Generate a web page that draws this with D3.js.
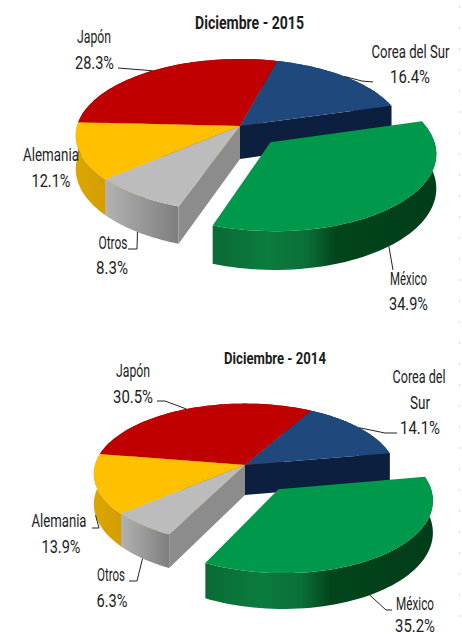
<!DOCTYPE html>
<html>
<head>
<meta charset="utf-8">
<script src="https://cdn.jsdelivr.net/npm/d3@7/dist/d3.min.js"></script>
<style>
html,body{margin:0;padding:0;background:#fff;}
svg{display:block;}
text{font-family:Roboto,"Liberation Sans",sans-serif;fill:#1c1c1c;}
</style>
</head>
<body>
<script>
// ---- data ----
const categories = ["México", "Otros", "Alemania", "Japón", "Corea del Sur"];
const values2015 = [34.9, 8.3, 12.1, 28.3, 16.4];
const values2014 = [35.2, 6.3, 13.9, 30.5, 14.1];
const titles = ["Diciembre - 2015", "Diciembre - 2014"];

// ---- styles ----
const topColors = ["#00984a", "#bcbcbc", "#ffc000", "#c00000", "#1f497d"];
const faceColors = ["#0a5f2c", "#8c8c8c", "#d9a300", "#8a0000", "#0c1f3f"];
const wallStops = [
  [[0, "#0a6b35"], [0.25, "#0b7c3e"], [0.42, "#0a6f37"], [0.55, "#02451d"], [1, "#003d18"]],
  [[0, "#b2b2b2"], [1, "#7e7e7e"]],
  [[0, "#dba600"], [1, "#d49e00"]],
  [[0, "#8a0000"], [1, "#8a0000"]],
  [[0, "#0c1f3f"], [1, "#0c1f3f"]]
];

// ---- layout ----
const W = 462, H = 636;
const pies = [
  { values: values2015, title: titles[0], titleX: 249.5, titleY: 28.5, titleSize: 18, titleW: 109,
    cx: 240, cy: 126, rx: 163, ry: 75.3, k: 0.124, depth: 33, ex: 0.265, ey: 0.29, mr: 0.98, start: 73.8,
    labels: [
      { lines: ["México", "34.9%"], x: [408.5, 408.5], y: [285, 310], w: [37, 39], elbow: [[393, 270]], shift: 4, lvl: 1 },
      { lines: ["Otros", "8.3%"], x: [113, 112], y: [249, 274], w: [29, 32], elbow: [[137, 249], [128, 249]], shift: 0, lvl: 1 },
      { lines: ["Alemania", "12.1%"], x: [51, 51], y: [161, 187], w: [56, 39], elbow: null },
      { lines: ["Japón", "28.3%"], x: [94, 94.5], y: [43, 69], w: [34, 39], elbow: [[118, 68]], shift: 0, lvl: 0 },
      { lines: ["Corea del Sur", "16.4%"], x: [410.5, 410], y: [58, 83], w: [78, 40], elbow: [[362, 81], [373, 82]], shift: 0, lvl: 0 }
    ] },
  { values: values2014, title: titles[1], titleX: 275, titleY: 364, titleSize: 17, titleW: 102,
    cx: 245, cy: 465, rx: 150, ry: 69, k: 0.124, depth: 30, ex: 0.358, ey: 0.42, mr: 0.975, start: 80,
    labels: [
      { lines: ["México", "35.2%"], x: [415, 415], y: [610, 631.5], w: [38, 40], elbow: [[386, 610], [392, 610]], shift: 6, lvl: 1 },
      { lines: ["Otros", "6.3%"], x: [111, 112], y: [581, 607], w: [28, 31], elbow: [[137, 581], [129, 581]], shift: 0, lvl: 1 },
      { lines: ["Alemania", "13.9%"], x: [59, 61], y: [527, 553], w: [55, 39], elbow: [[99, 528], [92, 528]], shift: 0, lvl: 1 },
      { lines: ["Japón", "30.5%"], x: [133, 133], y: [377, 403], w: [34, 40], elbow: [[165, 401], [157, 401]], shift: 0, lvl: 0 },
      { lines: ["Corea del", "Sur", "14.1%"], x: [419, 420, 420], y: [383, 409, 434], w: [53, 20, 40], elbow: [[385, 433], [397, 433]], shift: 0, lvl: 0 }
    ] }
];

const svg = d3.select("body").append("svg").attr("width", W).attr("height", H);
const defs = svg.append("defs");

// faint dotted rule at the right edge of the source image
svg.append("line").attr("x1", 459.5).attr("x2", 459.5).attr("y1", 6).attr("y2", H)
  .attr("stroke", "#dcdcdc").attr("stroke-width", 1).attr("stroke-dasharray", "2 19");

const line = d3.line();
const rad = d => d * Math.PI / 180;

// text squeezed horizontally to the width it has in the reference
function fitText(parent, str, x, y, size, width, weight) {
  const t = parent.append("text").attr("text-anchor", "middle")
    .attr("font-size", size).attr("font-weight", weight).text(str);
  const sx = width / t.node().getComputedTextLength();
  t.attr("transform", `translate(${x},${y}) scale(${sx},1)`);
  return t;
}

function drawAll() {
  pies.forEach((p, pi) => {
    const g = svg.append("g");
    const arcs = d3.pie().sort(null).value(d => d)
      .startAngle(rad(p.start)).endAngle(rad(p.start) + 2 * Math.PI)(p.values);

    const xs = d3.scaleLinear().domain([-1, 1]).range([p.cx - p.rx, p.cx + p.rx]);
    const ys = d3.scaleLinear().domain([-1, 1]).range([p.cy - p.ry, p.cy + p.ry]);

    // disc coordinates (u right, v towards viewer) -> screen with perspective
    const proj = (u, v, lvl) => {
      const s = 1 / (1 - p.k * v);
      return [p.cx + (xs(u) - p.cx) * s, ys(v * s) + lvl * p.depth * s];
    };
    const offsetOf = (a, i) => {
      if (i !== 0) return [0, 0];
      const m = (a.startAngle + a.endAngle) / 2;
      return [p.ex * Math.sin(m), -p.ey * Math.cos(m)];
    };
    const rim = (a, i, ang, lvl) => {
      const o = offsetOf(a, i);
      const r = i === 0 ? p.mr : 1;
      return proj(o[0] + r * Math.sin(ang), o[1] - r * Math.cos(ang), lvl);
    };
    const rimPts = (a, i, lvl) =>
      d3.range(0, 61).map(n => rim(a, i, a.startAngle + (a.endAngle - a.startAngle) * n / 60, lvl));
    const apex = (a, i, lvl) => { const o = offsetOf(a, i); return proj(o[0], o[1], lvl); };

    const area = pts => d3.polygonArea(pts);

    [3, 4, 2, 1, 0].forEach(i => {
      const a = arcs[i];
      const top = rimPts(a, i, 0), bot = rimPts(a, i, 1);
      const xExt = d3.extent(top, d => d[0]);

      // outer wall with a horizontal shading
      const id = "wall" + pi + "_" + i;
      const grad = defs.append("linearGradient").attr("id", id)
        .attr("gradientUnits", "userSpaceOnUse")
        .attr("x1", xExt[0]).attr("x2", xExt[1]).attr("y1", 0).attr("y2", 0);
      wallStops[i].forEach(s => grad.append("stop").attr("offset", s[0]).attr("stop-color", s[1]));
      g.append("path").attr("d", line(top.concat(bot.slice().reverse())) + "Z").attr("fill", `url(#${id})`);

      // radial cut faces, only the ones turned towards the viewer
      const A0 = apex(a, i, 0), A1 = apex(a, i, 1);
      const faceStart = [A0, top[0], bot[0], A1];
      const faceEnd = [A0, top[60], bot[60], A1];
      if (area(faceStart) > 0) g.append("path").attr("d", line(faceStart) + "Z").attr("fill", faceColors[i]);
      if (area(faceEnd) < 0) g.append("path").attr("d", line(faceEnd) + "Z").attr("fill", faceColors[i]);

      // top
      g.append("path").attr("d", line([A0].concat(top)) + "Z").attr("fill", topColors[i]);
    });

    // leaders
    arcs.forEach((a, i) => {
      const l = p.labels[i];
      if (!l.elbow) return;
      const m = (a.startAngle + a.endAngle) / 2 + rad(l.shift);
      const pts = [rim(a, i, m, l.lvl)].concat(l.elbow);
      g.append("path").attr("d", line(pts)).attr("fill", "none").attr("stroke", "#222").attr("stroke-width", 1);
    });

    // labels
    p.labels.forEach(l => {
      l.lines.forEach((t, j) => fitText(g, t, l.x[j], l.y[j], 19, l.w[j], "normal"));
    });

    fitText(g, p.title, p.titleX, p.titleY, p.titleSize, p.titleW, "bold");
  });
}
drawAll();
</script>
</body>
</html>
